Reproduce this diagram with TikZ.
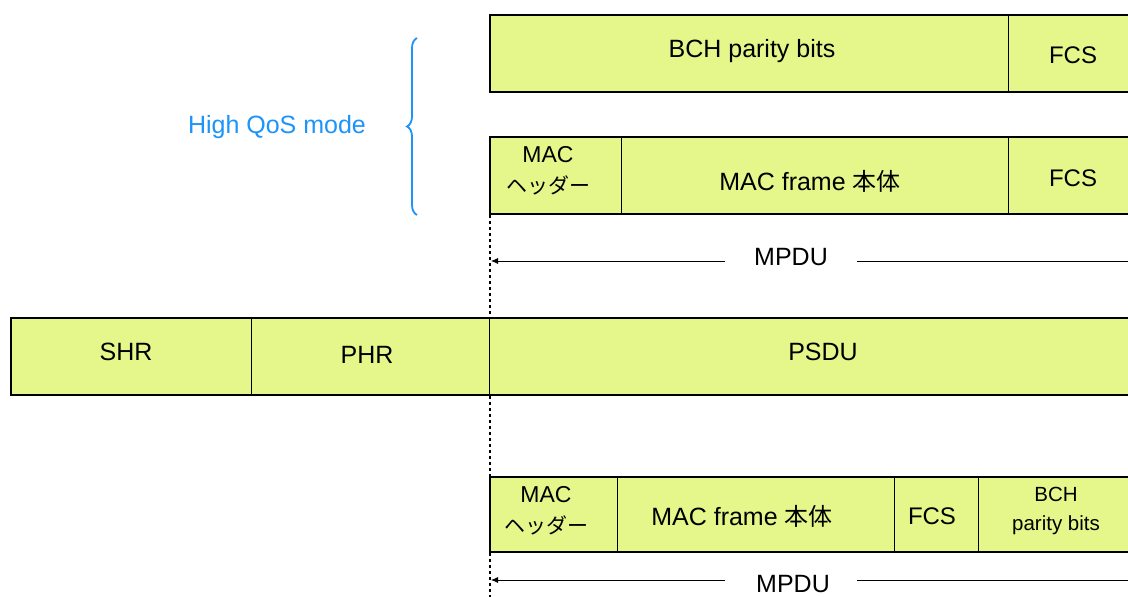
\documentclass[tikz,border=0pt]{standalone}
\usepackage{fontspec}
\setmainfont{Liberation Sans}
\newfontfamily\jpfont{Noto Sans CJK JP}
\usetikzlibrary{arrows.meta,decorations.pathreplacing}
\definecolor{cellfill}{RGB}{229,247,138}
\definecolor{qosblue}{RGB}{28,148,250}
\newcommand{\jp}[1]{{\jpfont #1}}
\begin{document}
\begin{tikzpicture}[x=1pt,y=-1pt,
  cell/.style={draw=black,line width=0.7pt,fill=cellfill,anchor=north west,inner sep=0pt,outer sep=0pt},
  frame/.style={draw=black,line width=1.6pt},
  txt/.style={font=\fontsize{25}{30}\selectfont,inner sep=0pt,align=center},
  fcstxt/.style={font=\fontsize{24}{30}\selectfont,inner sep=0pt,align=center},
  hdrtxt/.style={font=\fontsize{23}{31}\selectfont,inner sep=0pt,align=center},
  smalltxt/.style={font=\fontsize{20.5}{29}\selectfont,inner sep=0pt,align=center},
  guide/.style={line width=1.3pt,dash pattern=on 3pt off 3pt},
  dimline/.style={line width=0.8pt},
  dimarrow/.style={line width=0.8pt,-{Latex[length=7pt,width=6pt]}}]
\clip (0,0) rectangle (1128,597);
\fill[white] (0,0) rectangle (1128,597);
% top row: BCH parity bits / FCS
\node[cell,minimum width=518pt,minimum height=77pt] (bch) at (490,15) {};
\node[cell,minimum width=160pt,minimum height=77pt] (fcsA) at (1008,15) {};
\draw[frame] (1160,15) -- (490,15) -- (490,92) -- (1160,92);
\node[txt] (tbch) at (752,51) {BCH parity bits};
\node[fcstxt] (tfcsA) at (1073,55) {FCS};
% second row: MAC header / MAC frame / FCS
\node[cell,minimum width=131pt,minimum height=77pt] (machA) at (490,137) {};
\node[cell,minimum width=387pt,minimum height=77pt] (macfA) at (621,137) {};
\node[cell,minimum width=160pt,minimum height=77pt] (fcsB) at (1008,137) {};
\draw[frame] (1160,137) -- (490,137) -- (490,214) -- (1160,214);
\node[hdrtxt] (tmachA) at (548,171) {MAC\\\jp{\fontsize{21}{31}\selectfont ヘッダー}};
\node[txt] (tmacfA) at (810,181) {MAC frame \jp{\fontsize{24}{30}\selectfont 本体}};
\node[fcstxt] (tfcsB) at (1073,178) {FCS};
% brace
\coordinate (braceTop) at (417,38);
\coordinate (braceBot) at (417,215);
\draw[qosblue,line width=1.8pt,decorate,decoration={brace,amplitude=10pt}] (braceBot) -- (braceTop);
\node[txt,text=qosblue] (qos) at (277,127) {High QoS mode};
% MPDU dimension (upper)
\coordinate (gA) at (490,215);
\coordinate (gB) at (490,318);
\draw[guide] (gA) -- (gB);
\node[txt] (mpduA) at (791,257) {MPDU};
\coordinate (mpduAL) at (491,261);
\coordinate (mpduAR) at (1130,261);
\draw[dimarrow] (725,261) -- (mpduAL);
\draw[dimline] (857,261) -- (mpduAR);
% middle row: SHR / PHR / PSDU
\node[cell,minimum width=240pt,minimum height=77pt] (shr) at (11,318) {};
\node[cell,minimum width=238pt,minimum height=77pt] (phr) at (251,318) {};
\node[cell,minimum width=680pt,minimum height=77pt] (psdu) at (489,318) {};
\draw[frame] (1160,318) -- (11,318) -- (11,395) -- (1160,395);
\node[txt] (tshr) at (126,352) {SHR};
\node[txt] (tphr) at (367,355) {PHR};
\node[txt] (tpsdu) at (823,352) {PSDU};
% lower guides
\coordinate (gC) at (490,396);
\coordinate (gD) at (490,477);
\draw[guide] (gC) -- (gD);
\coordinate (gE) at (490,553);
\coordinate (gF) at (490,597);
\draw[guide] (gE) -- (gF);
% bottom row
\node[cell,minimum width=127pt,minimum height=75pt] (machB) at (490,477) {};
\node[cell,minimum width=277pt,minimum height=75pt] (macfB) at (617,477) {};
\node[cell,minimum width=84pt,minimum height=75pt] (fcsC) at (894,477) {};
\node[cell,minimum width=190pt,minimum height=75pt] (bchB) at (978,477) {};
\draw[frame] (1160,477) -- (490,477) -- (490,552) -- (1160,552);
\node[hdrtxt] (tmachB) at (546,511) {MAC\\\jp{\fontsize{21}{31}\selectfont ヘッダー}};
\node[txt] (tmacfB) at (742,516) {MAC frame \jp{\fontsize{24}{30}\selectfont 本体}};
\node[fcstxt] (tfcsC) at (932,516) {FCS};
\node[smalltxt] (tbchB) at (1056,511) {BCH\\parity bits};
% MPDU dimension (lower)
\node[txt] (mpduB) at (793,584) {MPDU};
\coordinate (mpduBL) at (491,580);
\coordinate (mpduBR) at (1130,580);
\draw[dimarrow] (725,580) -- (mpduBL);
\draw[dimline] (857,580) -- (mpduBR);
\end{tikzpicture}
\end{document}
